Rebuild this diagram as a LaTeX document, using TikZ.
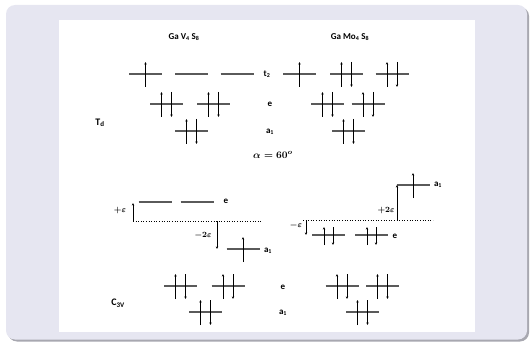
\documentclass[tikz,border=0pt]{standalone}
\usepackage{amsmath}
\usepackage{fontspec}
\setmainfont{Carlito}
\usetikzlibrary{arrows.meta}
\definecolor{lav}{HTML}{E6E6F1}
\definecolor{shad}{HTML}{A8A8B0}
\definecolor{levc}{HTML}{5A5A5A}
\tikzset{
  levline/.style={draw=levc,line width=1.4pt},
  spin/.style={draw=black,line width=0.75pt,-{Stealth[length=2.6pt,width=2.4pt]}},
  split/.style={draw=black,line width=0.6pt,-{Stealth[length=2.6pt,width=2.4pt]}},
  baseline/.style={draw=black,line width=0.6pt,dotted},
  lbl/.style={font=\bfseries\fontsize{9}{10}\selectfont,inner sep=0pt},
  biglbl/.style={font=\bfseries\fontsize{10}{11}\selectfont,inner sep=0pt},
  mlbl/.style={font=\fontsize{8.5}{9}\selectfont,inner sep=0pt},
  alphalbl/.style={font=\fontsize{10}{11}\selectfont,inner sep=0pt}
}
\newcommand{\lev}[2]{\draw[levline] (#1-16.5,#2) -- (#1+16.5,#2);}
\newcommand{\spup}[2]{\draw[spin] (#1,#2+13) -- (#1,#2-12);}
\newcommand{\spdn}[2]{\draw[spin] (#1,#2-12) -- (#1,#2+13);}
\newcommand{\one}[2]{\lev{#1}{#2}\spup{#1}{#2}}
\newcommand{\two}[2]{\lev{#1}{#2}\spup{#1-5}{#2}\spdn{#1+5}{#2}}
\newcommand{\twos}[2]{\lev{#1}{#2}\draw[spin] (#1-4.5,#2+10) -- (#1-4.5,#2-8);\draw[spin] (#1+4.5,#2-8) -- (#1+4.5,#2+10);}
\begin{document}
\begin{tikzpicture}[x=1pt,y=-1pt]
\useasboundingbox (0,0) rectangle (530,342);
% frame
\fill[shad,rounded corners=9pt] (8,7) rectangle (529,341.5);
\fill[lav,rounded corners=9pt] (6,5) rectangle (527,339.5);
\fill[white] (59,20) rectangle (475,332);
% headers
\node[lbl] (hV) at (184,37) {Ga V\textsubscript{4} S\textsubscript{8}};
\node[lbl] (hMo) at (350,37) {Ga Mo\textsubscript{4} S\textsubscript{8}};
% Td labels
\node[lbl] (lt2) at (267,74) {t\textsubscript{2}};
\node[lbl] (le) at (270,104) {e};
\node[lbl] (la1) at (270,132) {a\textsubscript{1}};
\node[biglbl] (Td) at (100,123) {T\textsubscript{d}};
\node[alphalbl] (alph) at (273,155) {$\boldsymbol{\alpha=60^{o}}$};
% Td left
\one{145.5}{74} \lev{191.5}{74} \lev{237}{74}
\two{166.5}{104} \two{213.5}{104}
\two{191.5}{131}
% Td right
\one{299.5}{74} \two{346.5}{74} \two{392}{74}
\two{327.5}{104} \two{368}{104}
\two{348.5}{131}
% lower left
\coordinate (bL1) at (133,221);
\coordinate (bL2) at (261,221);
\draw[baseline] (bL1) -- (bL2);
\lev{155}{202} \lev{197}{202}
\coordinate (eL) at (133,203);
\draw[split] (bL1) -- (eL);
\coordinate (mL1) at (217,221);
\coordinate (mL2) at (217,249);
\draw[split] (mL1) -- (mL2);
\one{243}{249}
\node[mlbl] (pe) at (120,210) {$\boldsymbol{+\varepsilon}$};
\node[mlbl] (m2e) at (203,235) {$\boldsymbol{-2\varepsilon}$};
\node[lbl] (leL) at (226,201) {e};
\node[lbl] (la1L) at (268,251) {a\textsubscript{1}};
% lower right
\coordinate (bR1) at (303,220);
\coordinate (bR2) at (433,220);
\draw[baseline] (bR1) -- (bR2);
\one{413}{185}
\coordinate (pR1) at (397,220);
\coordinate (pR2) at (397,185);
\draw[split] (pR1) -- (pR2);
\coordinate (mR1) at (306,220);
\coordinate (mR2) at (306,235);
\draw[split] (mR1) -- (mR2);
\twos{328.5}{235} \twos{371.5}{235}
\node[mlbl] (p2e) at (386,210) {$\boldsymbol{+2\varepsilon}$};
\node[mlbl] (me) at (296,225) {$\boldsymbol{-\varepsilon}$};
\node[lbl] (leR) at (395,236) {e};
\node[lbl] (la1R) at (438,185) {a\textsubscript{1}};
% C3v
\two{180.5}{286} \two{228}{286} \two{205.5}{312}
\two{342}{286} \two{382.5}{286} \two{362.5}{312}
\node[lbl] (lce) at (283,287) {e};
\node[lbl] (lca1) at (283,313) {a\textsubscript{1}};
\node[biglbl] (C3v) at (118,303) {C\textsubscript{3V}};
\end{tikzpicture}
\end{document}
